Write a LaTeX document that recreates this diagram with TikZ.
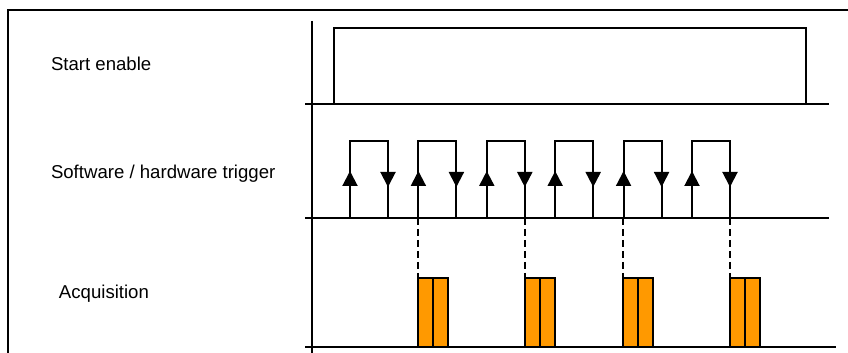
\documentclass[tikz,border=0pt]{standalone}
\usepackage{fontspec}
\setmainfont{Liberation Sans}
\usetikzlibrary{arrows.meta}
\definecolor{acqorange}{RGB}{255,153,0}

\begin{document}
\begin{tikzpicture}[x=0.5pt, y=-0.5pt, line width=1pt,
    lbl/.style={anchor=base west, inner sep=0pt, font=\fontsize{9.3}{11}\selectfont},
    tip/.style={-{Triangle[length=7.5pt, width=7.5pt]}},
    trigdash/.style={dash pattern=on 3.5pt off 2pt},
    acqbox/.style={draw, fill=acqorange}]

\useasboundingbox (0,0) rectangle (848,353);

% Frame and time axis
\draw (8,353) -- (8,10) -- (848,10);
\draw (312,21) -- (312,353);

% Row labels
\node[lbl] (start-lbl) at (50,71) {Start enable};
\node[lbl] (trig-lbl) at (50,179) {Software / hardware trigger};
\node[lbl] (acq-lbl) at (58,299) {Acquisition};

% Baselines
\draw (305,104) coordinate (start-base) -- (829,104);
\draw (305,218) coordinate (trig-base) -- (829,218);
\draw (305,347) coordinate (acq-base) -- (836,347);

% Start enable pulse
\draw (334,104) |- (806,28) -- (806,104);

% Trigger pulses
\foreach \a in {350,418.4,...,693} {
  \pgfmathsetmacro{\b}{\a+38}
  \draw (\a,218) |- (\b,141) -- (\b,218);
  \draw[tip] (\a,218) -- (\a,171);
  \draw[tip] (\b,141) -- (\b,187);
}

% Acquisitions started by the triggers
\foreach \a in {418,525,623,730} {
  \draw[trigdash] (\a,218) -- (\a,278);
  \draw[acqbox] (\a,278) rectangle (\a+14.5,347);
  \draw[acqbox] (\a+14.5,278) rectangle (\a+29.5,347);
}

\end{tikzpicture}
\end{document}
